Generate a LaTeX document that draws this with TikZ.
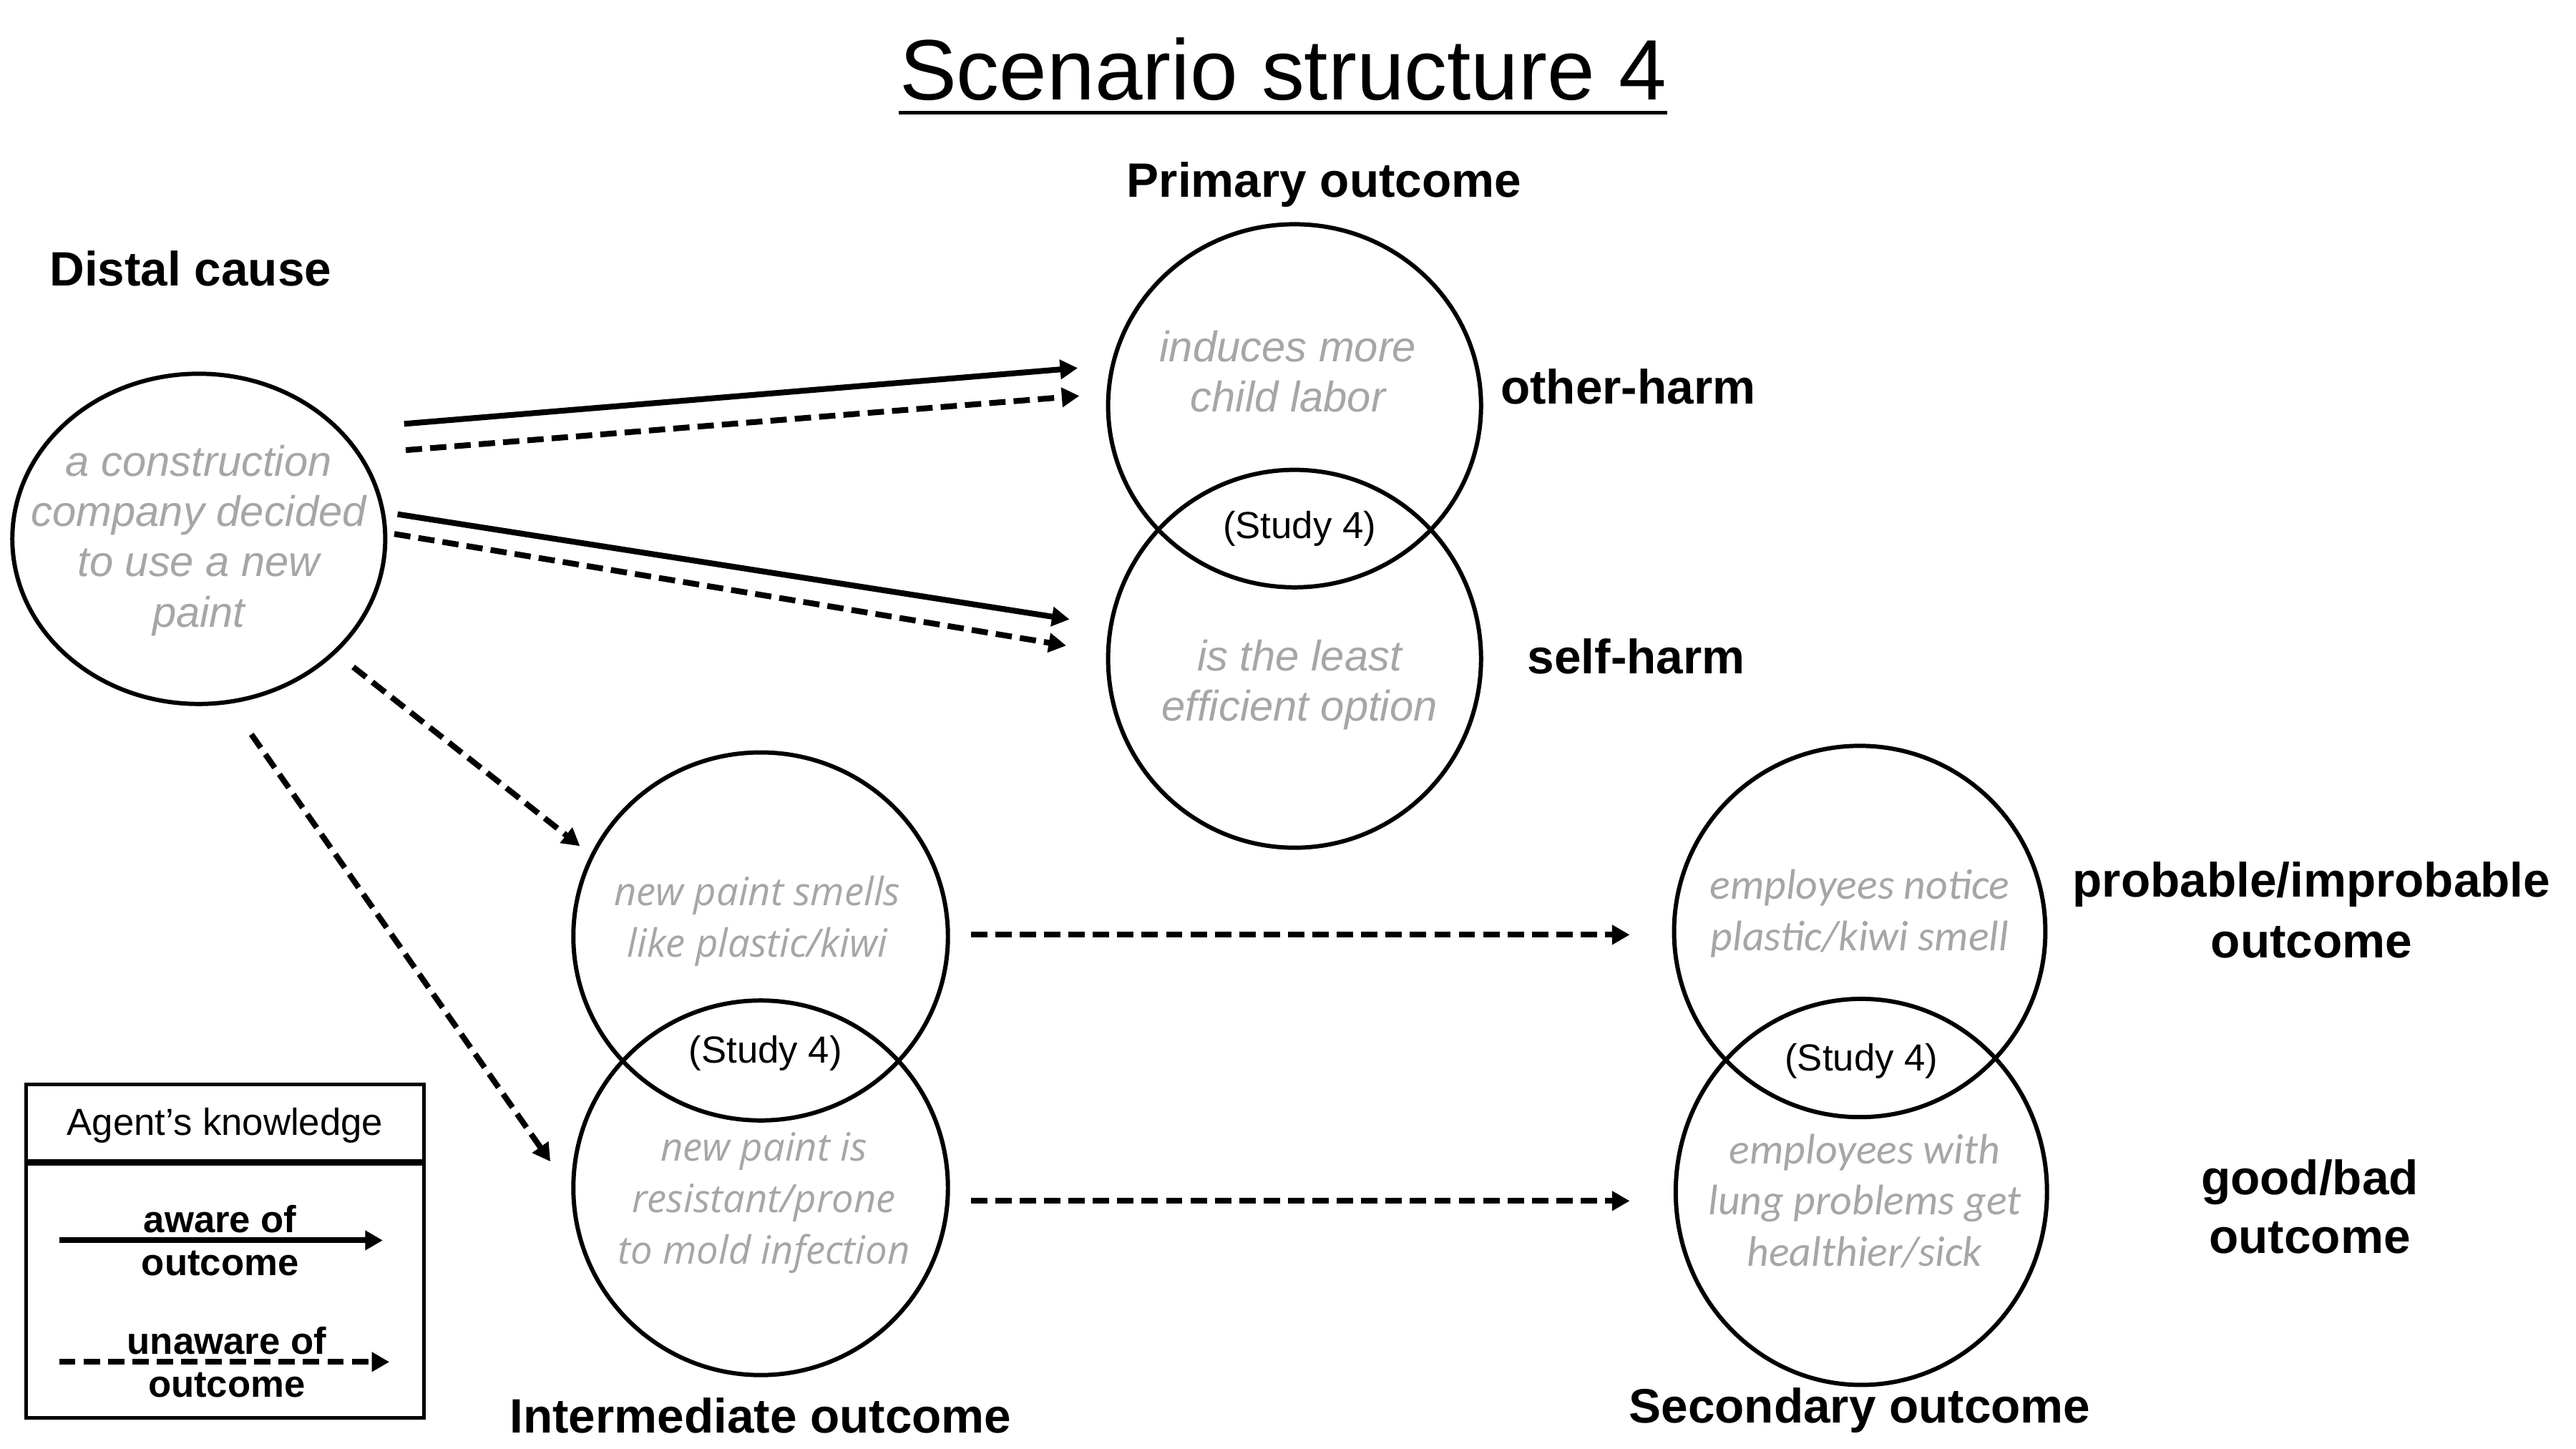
\documentclass[tikz,border=0pt]{standalone}
\usepackage{fontspec}
\setmainfont{Liberation Sans}
\newfontfamily\opensansf{Open Sans}
\newfontfamily\carlitof{Carlito}
\usetikzlibrary{arrows.meta,shapes.geometric}
\definecolor{txtgray}{HTML}{A6A6A6}
\newcommand\fsz[2]{\fontsize{#1pt}{#2pt}\selectfont}
\begin{document}
\begin{tikzpicture}[x=0.02296cm, y=-0.02296cm,
  ell/.style 2 args={ellipse, draw, line width=1.7pt, inner sep=0pt,
     minimum width=#1*0.02296cm, minimum height=#2*0.02296cm},
  txt/.style={inner sep=0pt, align=center},
  gtxt/.style={txt, text=txtgray},
  conn/.style={line width=2.3pt, -{Triangle[length=7pt,width=7.5pt]}},
  dconn/.style={conn, dash pattern=on 6.5pt off 3.2pt},
  headb/.style={txt, anchor=base, font=\bfseries\fsz{19.2}{23}},
  itx/.style={gtxt, font=\itshape\fsz{17}{20}},
  study/.style={txt, font=\fsz{15}{18}}
]
\useasboundingbox (0,0) rectangle (1568,882);

% title
\node[txt, font=\fsz{34.1}{40}] (title) at (781,42) {Scenario structure 4};
\draw[line width=1.6pt] ([yshift=-5.2pt]title.base west) -- ([yshift=-5.2pt]title.base east);

% headings and side labels
\node[headb] (primlab) at (806,120) {Primary outcome};
\node[headb] (distlab) at (116,174) {Distal cause};
\node[headb] (intlab) at (463,872) {Intermediate outcome};
\node[headb] (seclab) at (1132,866) {Secondary outcome};
\node[headb] (otherlab) at (991,246) {other-harm};
\node[headb] (selflab) at (996,410) {self-harm};
\node[headb] (problab) at (1407,546) {probable/improbable};
\node[headb] (problab2) at (1407,583) {outcome};
\node[headb] (goodlab) at (1406,727) {good/bad};
\node[headb] (goodlab2) at (1406,763) {outcome};

% circles
\node[ell={227}{201}] (distal) at (121,328) {};
\node[ell={227}{221}] (primA) at (788,247) {};
\node[ell={227}{230}] (primB) at (788,401) {};
\node[ell={228}{224}] (intA) at (463,570) {};
\node[ell={228}{228}] (intB) at (463,723) {};
\node[ell={226}{226}] (secA) at (1132,567) {};
\node[ell={226}{235}] (secB) at (1133,725.5) {};

% circle texts
\node[itx] (distT) at (121,329) {a construction\\company decided\\to use a new\\paint};
\node[itx] (primAT) at (784,226) {induces more\\child labor};
\node[itx] (primBT) at (791,417) {is the least\\efficient option};
\node[study] (primS) at (791,322) {(Study 4)};
\node[gtxt, font=\opensansf\itshape\fsz{15.5}{20.5}] (intAT) at (461,560.5) {new paint smells\\like plastic/kiwi};
\node[gtxt, font=\opensansf\itshape\fsz{15.5}{20.5}] (intBT) at (465,732) {new paint is\\resistant/prone\\to mold infection};
\node[study] (intS) at (466,641) {(Study 4)};
\node[gtxt, font=\carlitof\itshape\fsz{17}{20.3}] (secAT) at (1132,556) {employees notice\\plastic/kiwi smell};
\node[gtxt, font=\carlitof\itshape\fsz{17}{20.3}] (secBT) at (1135,731) {employees with\\lung problems get\\healthier/sick};
\node[study] (secS) at (1133,646) {(Study 4)};

% connector end points
\coordinate (a1s) at (246,258); \coordinate (a1e) at (656,224);
\coordinate (a2s) at (247,274); \coordinate (a2e) at (657,241);
\coordinate (a3s) at (242,313); \coordinate (a3e) at (651,377);
\coordinate (a4s) at (240,325); \coordinate (a4e) at (649,393);
\coordinate (a5s) at (215,406); \coordinate (a5e) at (353,515);
\coordinate (a6s) at (153,447); \coordinate (a6e) at (335,707);
\coordinate (a7s) at (591,569); \coordinate (a7e) at (992,569);
\coordinate (a8s) at (591,731); \coordinate (a8e) at (992,731);

\draw[conn] (a1s) -- (a1e);
\draw[dconn] (a2s) -- (a2e);
\draw[conn] (a3s) -- (a3e);
\draw[dconn] (a4s) -- (a4e);
\draw[dconn] (a5s) -- (a5e);
\draw[dconn] (a6s) -- (a6e);
\draw[dconn] (a7s) -- (a7e);
\draw[dconn] (a8s) -- (a8e);

% legend
\node[draw, line width=1.4pt, inner sep=0pt, minimum width=242*0.02296cm, minimum height=203*0.02296cm] (legbox) at (137,761.5) {};
\coordinate (divL) at (16,707.5); \coordinate (divR) at (258,707.5);
\draw[line width=2.4pt] (divL) -- (divR);
\node[txt, font=\fsz{15}{18}] (legtitle) at (137,685) {Agent’s knowledge};
\node[txt, font=\bfseries\fsz{15}{18}] (aw1) at (134,742) {aware of};
\node[txt, font=\bfseries\fsz{15}{18}] (aw2) at (134,769) {outcome};
\node[txt, font=\bfseries\fsz{15}{18}] (un1) at (138,816) {unaware of};
\node[txt, font=\bfseries\fsz{15}{18}] (un2) at (138,843) {outcome};
\coordinate (l1s) at (36,755); \coordinate (l1e) at (233,755);
\coordinate (l2s) at (36,829); \coordinate (l2e) at (237,829);
\draw[conn] (l1s) -- (l1e);
\draw[dconn] (l2s) -- (l2e);
\end{tikzpicture}
\end{document}
